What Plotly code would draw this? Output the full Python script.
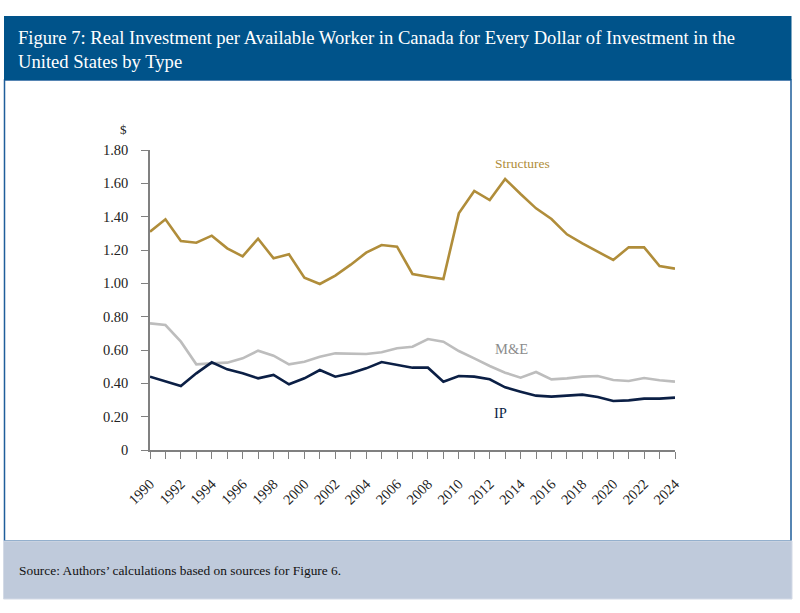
import plotly.graph_objects as go

# data
years = list(range(1990, 2025))
structures = [1.31, 1.384, 1.254, 1.244, 1.286, 1.21, 1.162, 1.268, 1.15, 1.174,
              1.034, 0.996, 1.046, 1.112, 1.184, 1.23, 1.22, 1.056, 1.04, 1.026,
              1.42, 1.554, 1.50, 1.626, 1.536, 1.45, 1.386, 1.294, 1.24, 1.192,
              1.14, 1.216, 1.216, 1.104, 1.088]
mande = [0.76, 0.75, 0.65, 0.514, 0.52, 0.524, 0.55, 0.596, 0.566, 0.514,
         0.53, 0.56, 0.58, 0.58, 0.576, 0.586, 0.61, 0.62, 0.666, 0.65,
         0.594, 0.55, 0.504, 0.464, 0.434, 0.468, 0.424, 0.43, 0.44, 0.444,
         0.42, 0.414, 0.432, 0.418, 0.41]
ip = [0.44, 0.414, 0.384, 0.46, 0.526, 0.484, 0.46, 0.43, 0.45, 0.394,
      0.43, 0.48, 0.44, 0.46, 0.49, 0.528, 0.51, 0.494, 0.494, 0.41,
      0.444, 0.44, 0.424, 0.376, 0.35, 0.326, 0.32, 0.324, 0.332, 0.318,
      0.294, 0.298, 0.308, 0.308, 0.314]
yticks = [0, 0.2, 0.4, 0.6, 0.8, 1.0, 1.2, 1.4, 1.6, 1.8]
ytick_labels = ["0", "0.20", "0.40", "0.60", "0.80", "1.00", "1.20", "1.40", "1.60", "1.80"]
xtick_years = list(range(1990, 2025, 2))

GOLD = "#B08D3A"
GREY = "#BDBDBD"
NAVY = "#0B1F45"
SERIF = "Liberation Serif"

W, H = 800, 613
L, R, T, B = 150, 125, 150, 163

# pixel -> paper coords
def px(x):
    return (x - L) / (W - L - R)

def py(y):
    return (H - B - y) / (H - T - B)

fig = go.Figure()
fig.add_trace(go.Scatter(x=years, y=structures, mode="lines", line=dict(color=GOLD, width=2.6)))
fig.add_trace(go.Scatter(x=years, y=mande, mode="lines", line=dict(color=GREY, width=2.6)))
fig.add_trace(go.Scatter(x=years, y=ip, mode="lines", line=dict(color=NAVY, width=2.6)))

shapes = [
    # white chart frame
    dict(type="rect", xref="paper", yref="paper", x0=px(4.5), x1=px(791), y0=py(541), y1=py(80),
         fillcolor="white", line=dict(color="#1F5E9B", width=1.5), layer="below"),
    # title band
    dict(type="rect", xref="paper", yref="paper", x0=px(4), x1=px(791.5), y0=py(80), y1=py(16),
         fillcolor="#00538A", line=dict(width=0), layer="below"),
    # source band
    dict(type="rect", xref="paper", yref="paper", x0=px(3.5), x1=px(792), y0=py(599), y1=py(541),
         fillcolor="#BFCADB", line=dict(color="#D3DAE6", width=1), layer="below"),
]

annotations = [
    dict(text="Figure 7: Real Investment per Available Worker in Canada for Every Dollar of Investment in the<br>United States by Type",
         xref="paper", yref="paper", x=px(16), y=py(49), xanchor="left", yanchor="middle",
         showarrow=False, align="left", font=dict(family=SERIF, size=18.6, color="white")),
    dict(text="$", xref="paper", yref="paper", x=px(118), y=py(120), showarrow=False,
         font=dict(family=SERIF, size=13, color="#222")),
    dict(text="Structures", x=2014.1, y=1.72, showarrow=False,
         font=dict(family=SERIF, size=13.5, color=GOLD)),
    dict(text="M&E", x=2013.4, y=0.606, showarrow=False,
         font=dict(family=SERIF, size=14.5, color="#8C8C8C")),
    dict(text="IP", x=2012.7, y=0.222, showarrow=False,
         font=dict(family=SERIF, size=14.5, color=NAVY)),
    dict(text="Source: Authors\u2019 calculations based on sources for Figure 6.",
         xref="paper", yref="paper", x=px(17), y=py(570), xanchor="left", yanchor="middle",
         showarrow=False, font=dict(family=SERIF, size=13.4, color="#111")),
]

fig.update_layout(
    width=W, height=H,
    margin=dict(l=L, r=R, t=T, b=B),
    paper_bgcolor="white", plot_bgcolor="rgba(0,0,0,0)",
    showlegend=False,
    shapes=shapes, annotations=annotations,
    font=dict(family=SERIF, size=12, color="#222"),
)
fig.update_xaxes(
    range=[1990, 2024], tickmode="array", tickvals=xtick_years, ticktext=[str(y) for y in xtick_years],
    tickangle=-45, showgrid=False, zeroline=False, showline=True, linecolor="#808080", linewidth=1.5,
    ticks="outside", ticklen=7, tickcolor="#808080", ticklabelstandoff=11,
    minor=dict(tickmode="array", tickvals=years, ticks="outside", ticklen=7, tickcolor="#808080"),
    tickfont=dict(family=SERIF, size=14.5, color="#222"),
)
fig.update_yaxes(
    range=[0, 1.8], tickmode="array", tickvals=yticks, ticktext=ytick_labels,
    showgrid=False, zeroline=False, showline=True, linecolor="#808080", linewidth=1.5,
    ticks="outside", ticklen=7, tickcolor="#808080", ticklabelstandoff=10,
    tickfont=dict(family=SERIF, size=14.5, color="#222"),
)

# drop the default page margin so the figure sits at the window corner
fig.write_html("out.html", config={"displayModeBar": False},
               post_script="document.body.style.margin='0';")
